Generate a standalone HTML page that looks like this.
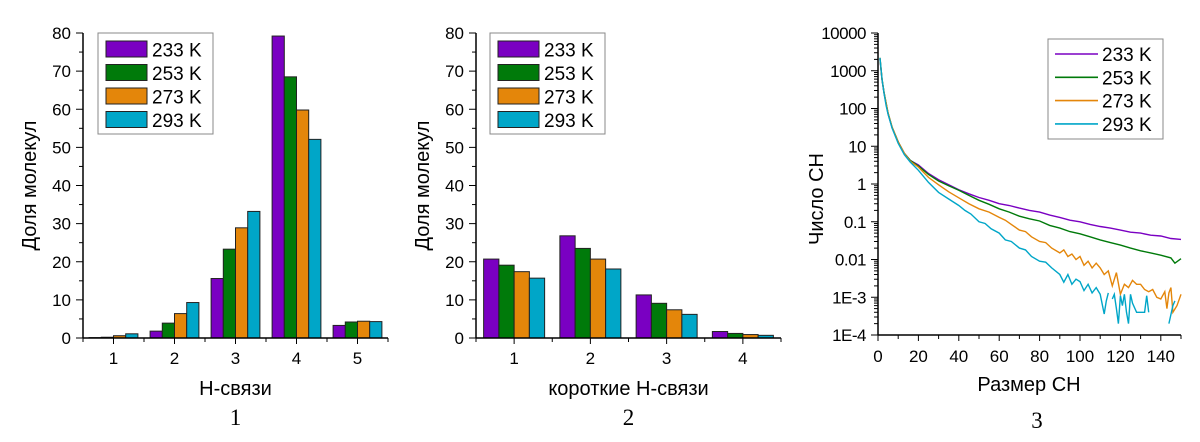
<!DOCTYPE html>
<html><head><meta charset="utf-8">
<style>
html,body{margin:0;padding:0;background:#fff;}
svg{display:block;font-family:"Liberation Sans",sans-serif;}
</style></head>
<body>
<svg id="svg" width="1200" height="442" viewBox="0 0 1200 442"></svg>
<script>
const temps = ["233 K","253 K","273 K","293 K"];
const colors = ["#7a00c2","#007a0a","#e4860a","#00a6c8"];
// Chart 1
const cats1 = ["1","2","3","4","5"];
const c1_233 = [0.1,1.8,15.6,79.2,3.3];
const c1_253 = [0.2,3.9,23.3,68.5,4.2];
const c1_273 = [0.6,6.4,28.9,59.8,4.4];
const c1_293 = [1.1,9.3,33.2,52.1,4.3];
// Chart 2
const cats2 = ["1","2","3","4"];
const c2_233 = [20.7,26.8,11.3,1.7];
const c2_253 = [19.1,23.5,9.1,1.2];
const c2_273 = [17.4,20.7,7.4,0.9];
const c2_293 = [15.7,18.1,6.2,0.7];
const yTicksBar = [0,10,20,30,40,50,60,70,80];
// Chart 3
const xTicks3 = [0,20,40,60,80,100,120,140];
const yTicks3 = ["1E-4","1E-3","0.01","0.1","1","10","100","1000","10000"];
const x233 = [1,2,3,5,7,10,13,16,20,25,30,35,40,45,50,55,60,65,70,75,80,85,90,95,100,105,110,115,120,125,130,135,140,145,150];
const y233 = [2000,580,250,72,31,13,6.5,4.2,3.2,1.9,1.3,0.95,0.7,0.55,0.44,0.37,0.3,0.27,0.23,0.2,0.18,0.15,0.13,0.11,0.1,0.085,0.075,0.068,0.06,0.053,0.05,0.044,0.042,0.036,0.034];
const x253 = [1,2,3,5,7,10,13,16,20,25,30,35,40,45,50,55,60,65,70,75,80,85,90,95,100,105,110,115,120,125,130,135,140,145,147,150];
const y253 = [2100,600,260,75,32,13,6.5,4.2,3,1.8,1.2,0.9,0.68,0.5,0.37,0.29,0.22,0.18,0.14,0.12,0.105,0.08,0.068,0.055,0.048,0.04,0.033,0.028,0.024,0.02,0.017,0.015,0.013,0.011,0.008,0.0105];
const x273 = [1,2,3,5,7,10,13,16,20,25,30,35,40,45,50,55,60,63,66,70,73,76,80,83,86,90,92,94,96,98,100,102,104,106,108,110,112,114,116,118,120,122,124,126,128,130,132,134,136,138,140,142,143,144,145,146,148,150];
const y273 = [2200,600,260,75,32,13,6.5,4,2.8,1.5,0.95,0.62,0.43,0.3,0.22,0.18,0.13,0.11,0.085,0.06,0.055,0.04,0.03,0.028,0.02,0.015,0.018,0.012,0.014,0.01,0.012,0.007,0.009,0.006,0.008,0.006,0.004,0.005,0.002,0.0045,0.0012,0.0022,0.0018,0.0028,0.0022,0.0022,0.0016,0.0014,0.0016,0.001,0.0009,0.0014,0.0005,0.0013,0.0018,0.0004,0.0006,0.0012];
const x293 = [1,2,3,4,5,7,10,13,16,20,25,30,35,40,43,46,50,53,56,60,63,66,70,73,76,80,83,86,90,92,94,96,98,100,102,104,106,108,110,112,113,114,115,116,117,118,119,120,121,122,123,124,125,126,128,130,132,133,134,135,144,146,147];
const y293 = [2200,600,250,120,70,30,12,6,3.8,2.3,1.1,0.6,0.4,0.27,0.2,0.16,0.1,0.09,0.065,0.05,0.033,0.03,0.02,0.018,0.012,0.009,0.0085,0.006,0.004,0.0025,0.004,0.0022,0.003,0.0026,0.0015,0.0022,0.0013,0.0018,0.0012,0.00036,0.0008,0.0013,null,0.0009,0.0012,0.0005,0.0002,0.0011,0.0006,0.0012,0.0004,0.0002,0.0012,0.0007,0.0004,0.0004,0.0004,0.0011,0.0004,null,0.0002,0.0006,0.0008];

const svg = document.getElementById('svg');
const NS = "http://www.w3.org/2000/svg";
function mk(tag, attrs, parent){const e=document.createElementNS(NS,tag);for(const k in attrs)e.setAttribute(k,attrs[k]);(parent||svg).appendChild(e);return e;}
function txt(s, attrs, parent){const e=mk('text',attrs,parent);e.textContent=s;return e;}

function barChart(id, cats, series, ax){
  const g=mk('g',{});
  
  
  const n=cats.length;
  const sx=v=>ax.x0+(v-0.5)/n*(ax.x1-ax.x0);
  const sy=v=>ax.y0-(v/80)*(ax.y0-ax.y1);
  const step=(ax.x1-ax.x0)/n, bw=step*0.8/4;
  series.forEach((s,si)=>{
    s.forEach((v,ci)=>{
      const cx=sx(ci+1);
      const r=mk('rect',{x:cx-2*bw+si*bw,y:sy(v),width:bw,height:sy(0)-sy(v),fill:colors[si],stroke:"#222","stroke-width":1},g);
      
      
    });
  });
  mk('line',{x1:ax.x0,y1:ax.y0,x2:ax.x1,y2:ax.y0,stroke:"#000","stroke-width":1.5},g);
  mk('line',{x1:ax.x0,y1:ax.y0,x2:ax.x0,y2:ax.y1,stroke:"#000","stroke-width":1.5},g);
  for(let v=0;v<=80;v+=5){const y=sy(v);mk('line',{x1:ax.x0-(v%10?4:7),y1:y,x2:ax.x0,y2:y,stroke:"#000","stroke-width":1},g);}
  yTicksBar.forEach(v=>{const t=txt(String(v),{x:ax.x0-12,y:sy(v)+6,"text-anchor":"end","font-size":17},g);});
  for(let k=0;k<=2*n;k++){const x=ax.x0+k*step/2;mk('line',{x1:x,y1:ax.y0,x2:x,y2:ax.y0+(k%2?6:4),stroke:"#000","stroke-width":1},g);}
  cats.forEach((c,i)=>{const t=txt(c,{x:sx(i+1),y:ax.y0+26,"text-anchor":"middle","font-size":17},g);});
  const yt=txt("Доля молекул",{x:0,y:0,"text-anchor":"middle","font-size":20,transform:`translate(${ax.x0-47},${(ax.y0+ax.y1)/2}) rotate(-90)`},g);
  
  const xt=txt(ax.xtitle,{x:(ax.x0+ax.x1)/2,y:395,"text-anchor":"middle","font-size":20},g);
  
  const nl=txt(ax.num,{x:(ax.x0+ax.x1)/2,y:425,"text-anchor":"middle","font-size":23,"font-family":"Liberation Serif, serif"},g);
  
  const lg=mk('g',{},g);
  
  mk('rect',{x:ax.lx,y:33,width:115,height:101,fill:"#fff",stroke:"#888","stroke-width":1},lg);
  temps.forEach((tname,i)=>{
    const e=mk('g',{},lg);
    
    mk('rect',{x:ax.lx+8,y:41+i*23.5,width:41,height:16,fill:colors[i],stroke:"#222","stroke-width":1},e);
    txt(tname,{x:ax.lx+54,y:56.5+i*23.5,"font-size":19},e);
  });
}
barChart('chart-h-bonds',cats1,[c1_233,c1_253,c1_273,c1_293],{x0:83,x1:388,y0:338,y1:33,lx:98,xtitle:"H-связи",num:"1"});
barChart('chart-short-h-bonds',cats2,[c2_233,c2_253,c2_273,c2_293],{x0:476,x1:781,y0:338,y1:33,lx:490,xtitle:"короткие H-связи",num:"2"});

(function(){
  const g=mk('g',{});
  
  
  const X0=878,X1=1181,Y0=335,Y1=33;
  const sx=v=>X0+v/150*(X1-X0);
  const sy=v=>Y0-(Math.log10(v)+4)/8*(Y0-Y1);
  const series=[[x233,y233],[x253,y253],[x273,y273],[x293,y293]];
  series.forEach(([xs,ys],si)=>{
    let d="",pen=false;
    xs.forEach((x,i)=>{const v=ys[i];if(v==null){pen=false;return;}d+=(pen?"L":"M")+sx(x).toFixed(1)+","+sy(v).toFixed(1);pen=true;});
    const p=mk('path',{d:d,fill:"none",stroke:colors[si],"stroke-width":1.4},g);
    
    
  });
  mk('line',{x1:X0,y1:Y0,x2:X1,y2:Y0,stroke:"#000","stroke-width":1.5},g);
  mk('line',{x1:X0,y1:Y0,x2:X0,y2:Y1,stroke:"#000","stroke-width":1.5},g);
  for(let e=-4;e<=4;e++){
    const y=sy(Math.pow(10,e));
    mk('line',{x1:X0-7,y1:y,x2:X0,y2:y,stroke:"#000","stroke-width":1},g);
    if(e<4)for(let m=2;m<=9;m++){const ym=sy(m*Math.pow(10,e));mk('line',{x1:X0-4,y1:ym,x2:X0,y2:ym,stroke:"#000","stroke-width":1},g);}
  }
  yTicks3.forEach((s,i)=>{const t=txt(s,{x:X0-12,y:sy(Math.pow(10,i-4))+6,"text-anchor":"end","font-size":17,"letter-spacing":"-0.5"},g);});
  for(let v=0;v<=150;v+=10){mk('line',{x1:sx(v),y1:Y0,x2:sx(v),y2:Y0+(v%20?4:6),stroke:"#000","stroke-width":1},g);}
  xTicks3.forEach(v=>{const t=txt(String(v),{x:sx(v),y:Y0+27,"text-anchor":"middle","font-size":17},g);});
  const yt=txt("Число CH",{x:0,y:0,"text-anchor":"middle","font-size":20,transform:`translate(${X0-55},${(Y0+Y1)/2+15}) rotate(-90)`},g);
  
  const xt=txt("Размер CH",{x:1029,y:391,"text-anchor":"middle","font-size":20},g);
  
  const nl=txt("3",{x:1037,y:428,"text-anchor":"middle","font-size":23,"font-family":"Liberation Serif, serif"},g);
  
  const lg=mk('g',{},g);
  
  mk('rect',{x:1048,y:39,width:115,height:100,fill:"#fff",stroke:"#888","stroke-width":1},lg);
  temps.forEach((tname,i)=>{
    const e=mk('g',{},lg);
    
    const y=54+i*23.3;
    mk('line',{x1:1055,y1:y,x2:1098,y2:y,stroke:colors[i],"stroke-width":1.6},e);
    txt(tname,{x:1102,y:y+7,"font-size":19},e);
  });
})();
</script>
</body></html>
